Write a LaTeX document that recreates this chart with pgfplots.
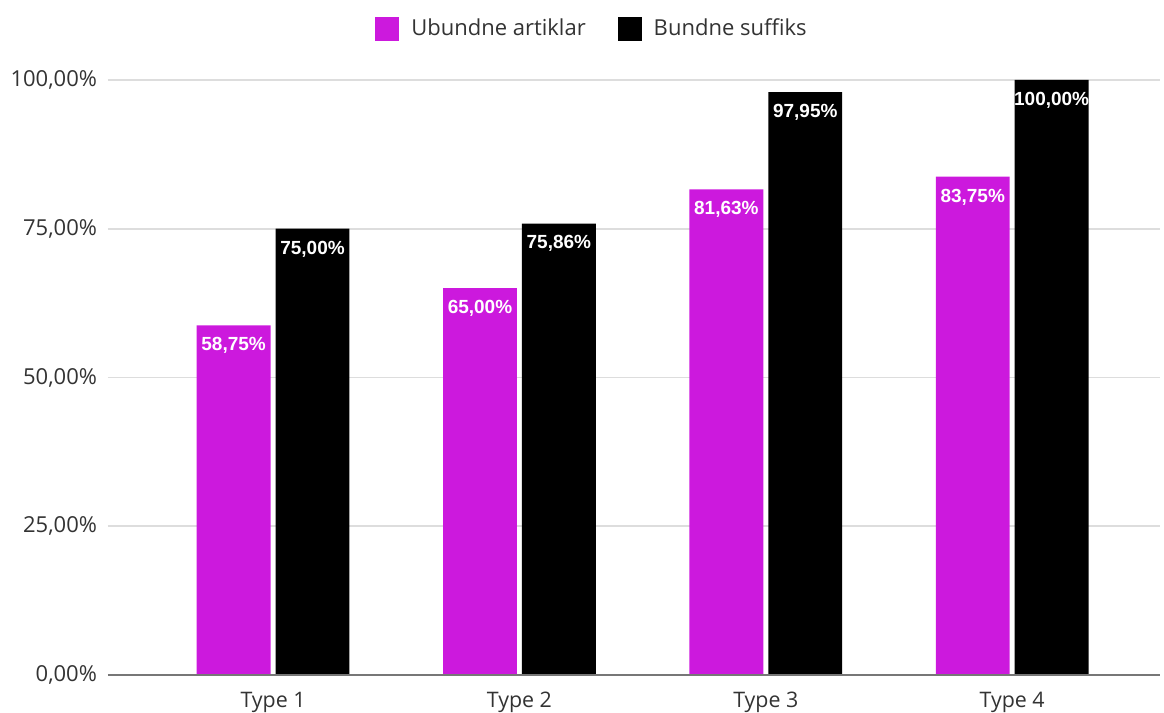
\documentclass[border=0pt]{standalone}
\usepackage{fontspec}
\setmainfont{Open Sans}
\newfontfamily\valfont{Liberation Sans}
\usepackage{pgfplots}
\pgfplotsset{compat=1.18}
\definecolor{magbar}{HTML}{CC19DD}
\definecolor{gridgray}{HTML}{DDDDDD}
\definecolor{axisgray}{HTML}{777777}
\definecolor{labelgray}{HTML}{333333}

\begin{document}
\begin{tikzpicture}
\path[use as bounding box] (0pt,0pt) rectangle (582pt,356.5pt);
\begin{axis}[
  at={(54pt,19pt)}, anchor=south west,
  scale only axis,
  width=526pt, height=297.5pt,
  xmin=-0.67, xmax=3.60,
  ymin=0, ymax=100,
  clip=false,
  axis line style={draw=none},
  axis x line*=bottom,
  ybar=2.5pt, bar width=0.30,
  ytick={0,25,50,75,100},
  xtick={0,1,2,3},
  xticklabels={Type 1,Type 2,Type 3,Type 4},
  major tick length=0pt,
  ymajorgrids,
  grid style={gridgray, line width=0.9pt},
  /pgf/number format/assume math mode=true,
  yticklabel={\pgfmathprintnumber[fixed,fixed zerofill,precision=2,use comma]{\tick}\%},
  yticklabel style={font=\fontsize{11}{13}\selectfont, text=labelgray, xshift=-2pt},
  xticklabel style={font=\fontsize{10.7}{13}\selectfont, text=labelgray, yshift=-5pt},
  legend style={at={(0.461,1.0857)}, anchor=center, draw=none,
    legend columns=2, font=\fontsize{11}{13}\selectfont, text=labelgray,
    /tikz/every odd column/.append style={column sep=4pt},
    /tikz/every even column/.append style={column sep=14pt}},
  legend image code/.code={\fill[#1] (0pt,-6pt) rectangle (12pt,6pt);},
  nodes near coords={\pgfmathprintnumber[fixed,fixed zerofill,precision=2,use comma]{\pgfplotspointmeta}\%},
  every node near coord/.append style={font=\valfont\bfseries\fontsize{9.5}{11}\selectfont,
    text=white, anchor=north, yshift=-2.5pt},
]
\addplot[fill=magbar, draw=none]
  coordinates {(0,58.75) (1,65.00) (2,81.63) (3,83.75)};
\addlegendentry{Ubundne artiklar}
\addplot[fill=black, draw=none]
  coordinates {(0,75.00) (1,75.86) (2,97.95) (3,100.00)};
\addlegendentry{Bundne suffiks}
\draw[axisgray, line width=1pt] (rel axis cs:0,0) -- (rel axis cs:1,0);
\end{axis}
\end{tikzpicture}
\end{document}
